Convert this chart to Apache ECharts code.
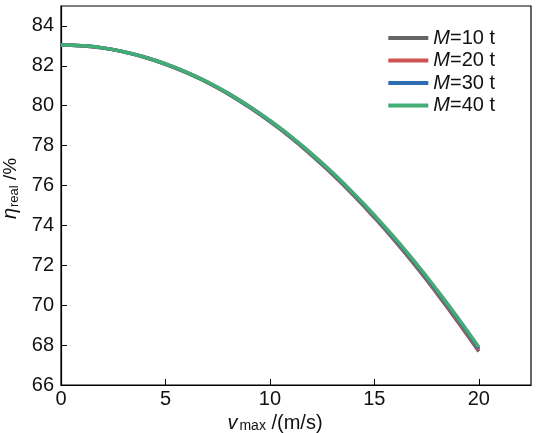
<!DOCTYPE html>
<html>
<head>
<meta charset="utf-8">
<script src="https://cdn.jsdelivr.net/npm/echarts@6/dist/echarts.min.js"></script>
<style>
  html, body { margin: 0; padding: 0; background: #fff; }
  #chart { width: 540px; height: 433px; }
</style>
</head>
<body>
<div id="chart"></div>
<script>
// vmax (m/s)
var vmax = [0, 1, 2, 3, 4, 5, 6, 7, 8, 9, 10, 11, 12, 13, 14, 15, 16, 17, 18, 19, 20]
// eta_real (%) for each mass
var etaM10 = [83.05, 83.01, 82.89, 82.70, 82.43, 82.08, 81.66, 81.17, 80.59, 79.93, 79.20, 78.40, 77.51, 76.55, 75.51, 74.39, 73.20, 71.93, 70.58, 69.16, 67.68]
var etaM20 = [83.05, 83.01, 82.90, 82.70, 82.43, 82.09, 81.67, 81.18, 80.60, 79.95, 79.22, 78.42, 77.54, 76.58, 75.55, 74.44, 73.25, 71.99, 70.65, 69.24, 67.76]
var etaM30 = [83.05, 83.01, 82.90, 82.71, 82.44, 82.10, 81.68, 81.19, 80.62, 79.97, 79.24, 78.45, 77.57, 76.62, 75.59, 74.48, 73.30, 72.05, 70.71, 69.31, 67.83]
var etaM40 = [83.05, 83.01, 82.90, 82.71, 82.44, 82.10, 81.69, 81.20, 80.63, 79.98, 79.26, 78.47, 77.59, 76.65, 75.62, 74.52, 73.35, 72.10, 70.77, 69.37, 67.90]
var seriesNames = ['M=10 t', 'M=20 t', 'M=30 t', 'M=40 t']
var seriesColors = ['#666666', '#d05252', '#2f6db3', '#42ad74']

var font = 'Liberation Sans, Arial, sans-serif'
var chart = echarts.init(document.getElementById('chart'))

function pairs(ys) {
  return vmax.map(function (v, i) { return [v, ys[i]] })
}

var allData = [etaM10, etaM20, etaM30, etaM40]
var series = allData.map(function (d, i) {
  return {
    name: seriesNames[i],
    type: 'line',
    data: pairs(d),
    smooth: true,
    showSymbol: false,
    lineStyle: { width: 3.5, color: seriesColors[i] },
    itemStyle: { color: seriesColors[i] },
    z: 2 + i
  }
})

chart.setOption({
  animation: false,
  grid: {
    left: 61,
    right: 9,
    top: 6,
    bottom: 48,
    outerBoundsMode: 'none',
    containLabel: false,
    show: true,
    borderColor: '#000',
    borderWidth: 1.2
  },
  legend: {
    right: 40,
    top: 23,
    orient: 'vertical',
    itemWidth: 40,
    itemHeight: 4,
    itemGap: 2.5,
    icon: 'rect',
    data: seriesNames,
    formatter: function (name) {
      return '{i|M}' + name.slice(1)
    },
    textStyle: {
      fontFamily: font,
      fontSize: 20,
      color: '#111',
      rich: {
        i: { fontStyle: 'italic', fontFamily: font, fontSize: 20, color: '#111' }
      }
    }
  },
  xAxis: {
    type: 'value',
    min: 0,
    max: 22.5,
    interval: 5,
    name: '{v|v}{s|max}{n| /(m/s)}',
    nameLocation: 'middle',
    nameGap: 23,
    nameTextStyle: {
      padding: [0, 42, 0, 0],
      rich: {
        v: { fontFamily: font, fontSize: 20, fontStyle: 'italic', color: '#111' },
        s: { fontFamily: font, fontSize: 14, color: '#111', padding: [4, 0, 0, 2] },
        n: { fontFamily: font, fontSize: 20, color: '#111' }
      }
    },
    axisLine: { lineStyle: { color: '#000', width: 1.2 } },
    axisTick: { inside: true, length: 6, lineStyle: { color: '#000' } },
    axisLabel: { fontFamily: font, fontSize: 20, color: '#111', margin: 4, showMaxLabel: false },
    splitLine: { show: false }
  },
  yAxis: {
    type: 'value',
    min: 66,
    max: 85,
    interval: 2,
    name: '{e|η}{s|real}{n| /%}',
    nameLocation: 'middle',
    nameGap: 38,
    nameRotate: 90,
    nameTextStyle: {
      padding: [0, 0, 0, 14],
      rich: {
        e: { fontFamily: font, fontSize: 20, fontStyle: 'italic', color: '#111' },
        s: { fontFamily: font, fontSize: 13, color: '#111', padding: [7, 0, 0, 1] },
        n: { fontFamily: font, fontSize: 19, color: '#111' }
      }
    },
    axisLine: { lineStyle: { color: '#000', width: 1.2 } },
    axisTick: { inside: true, length: 6, lineStyle: { color: '#000' } },
    axisLabel: { fontFamily: font, fontSize: 20, color: '#111', margin: 7, showMaxLabel: false },
    splitLine: { show: false }
  },
  series: series
})
</script>
</body>
</html>
